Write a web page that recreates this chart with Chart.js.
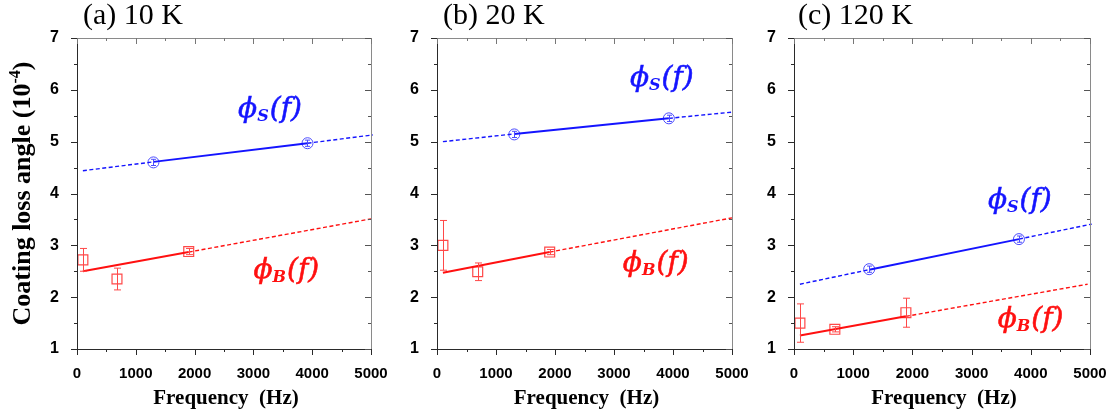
<!DOCTYPE html>
<html>
<head>
<meta charset="utf-8">
<script src="https://cdn.jsdelivr.net/npm/chart.js@4.4.0/dist/chart.umd.min.js"></script>
<style>
html, body { margin: 0; padding: 0; background: #fff; }
#wrap { position: relative; width: 1116px; height: 419px; overflow: hidden; }
#wrap canvas { position: absolute; left: 0; top: 0; }
</style>
</head>
<body>
<div id="wrap">
  <canvas id="chartA" width="1116" height="419"></canvas>
  <canvas id="chartB" width="1116" height="419"></canvas>
  <canvas id="chartC" width="1116" height="419"></canvas>
</div>
<script>
// axes
const freqMin = 0, freqMax = 5000, freqStep = 1000;
const lossMin = 1, lossMax = 7, lossStep = 1;

// (a) 10 K
const aSFreq = [1300, 3920];
const aSLoss = [4.60, 4.97];
const aSErr = [0.06, 0.06];
const aBFreq = [100, 680, 1900];
const aBLoss = [2.72, 2.35, 2.88];
const aBErr = [0.22, 0.21, 0.06];
const aSFitFreq = [100, 1300, 3920, 5030];
const aSFitLoss = [4.44, 4.61, 4.97, 5.13];
const aBFitFreq = [100, 1900, 5000];
const aBFitLoss = [2.50, 2.87, 3.51];

// (b) 20 K
const bSFreq = [1310, 3930];
const bSLoss = [5.14, 5.45];
const bSErr = [0.06, 0.06];
const bBFreq = [100, 690, 1910];
const bBLoss = [3.00, 2.49, 2.87];
const bBErr = [0.48, 0.17, 0.05];
const bSFitFreq = [100, 1310, 3930, 5000];
const bSFitLoss = [5.00, 5.15, 5.45, 5.57];
const bBFitFreq = [100, 1910, 5000];
const bBFitLoss = [2.47, 2.87, 3.53];

// (c) 120 K
const cSFreq = [1270, 3800];
const cSLoss = [2.54, 3.12];
const cSErr = [0.06, 0.06];
const cBFreq = [100, 690, 1890];
const cBLoss = [1.50, 1.38, 1.70];
const cBErr = [0.37, 0.05, 0.28];
const cSFitFreq = [100, 1270, 3800, 5030];
const cSFitLoss = [2.25, 2.53, 3.12, 3.41];
const cBFitFreq = [100, 1890, 4960];
const cBFitLoss = [1.26, 1.63, 2.25];

const BLUE = '#1414ff';
const RED = '#ff1010';
const BLUE_PT = '#4a4aff';
const RED_PT = '#ff4848';

function pts(xs, ys) {
    return xs.map((x, i) => ({ x: x, y: ys[i] }));
}

// fit line: solid between the two measured points, dashed outside
function fitDataset(xs, ys, color, solidFrom, solidTo) {
    const solid = ctx => ctx.p0DataIndex >= solidFrom && ctx.p1DataIndex <= solidTo;
    return {
        type: 'line',
        data: pts(xs, ys),
        borderColor: color,
        borderWidth: 1.6,
        pointRadius: 0,
        tension: 0,
        clip: false,
        segment: {
            borderDash: ctx => solid(ctx) ? undefined : [4, 2.5],
            borderWidth: ctx => solid(ctx) ? 2 : 1.4
        }
    };
}

// frame, ticks, error bars and texts
const decorPlugin = {
    id: 'decor',
    afterDatasetsDraw(chart) {
        const ctx = chart.ctx;
        const xs = chart.scales.x, ys = chart.scales.y;
        ctx.save();
        chart.data.datasets.forEach(ds => {
            if (!ds.errorBars) return;
            ctx.strokeStyle = ds.borderColor;
            ctx.lineWidth = 1;
            ds.data.forEach((p, i) => {
                const px = Math.round(xs.getPixelForValue(p.x)) + 0.5;
                const top = ys.getPixelForValue(p.y + ds.errorBars[i]);
                const bot = ys.getPixelForValue(p.y - ds.errorBars[i]);
                const cap = ds.capWidth / 2;
                ctx.beginPath();
                ctx.moveTo(px, top); ctx.lineTo(px, bot);
                ctx.moveTo(px - cap, top); ctx.lineTo(px + cap, top);
                ctx.moveTo(px - cap, bot); ctx.lineTo(px + cap, bot);
                ctx.stroke();
            });
        });
        ctx.restore();
    },
    afterDraw(chart, args, opts) {
        const ctx = chart.ctx;
        const a = chart.chartArea;
        const xs = chart.scales.x, ys = chart.scales.y;
        ctx.save();
        // frame
        ctx.lineWidth = 1;
        ctx.strokeStyle = '#8a8a8a';
        ctx.beginPath();
        ctx.moveTo(a.left, a.top + 0.5); ctx.lineTo(a.right + 0.5, a.top + 0.5);
        ctx.lineTo(a.right + 0.5, a.bottom);
        ctx.stroke();
        ctx.strokeStyle = '#2a2a2a';
        ctx.beginPath();
        ctx.moveTo(a.left + 0.5, a.top); ctx.lineTo(a.left + 0.5, a.bottom + 0.5);
        ctx.lineTo(a.right + 0.5, a.bottom + 0.5);
        ctx.stroke();
        // ticks
        for (let v = freqMin; v <= freqMax; v += freqStep / 2) {
            const major = (v % freqStep) === 0;
            const len = major ? 6 : 3;
            const px = Math.round(xs.getPixelForValue(v)) + 0.5;
            ctx.strokeStyle = '#2a2a2a';
            ctx.beginPath(); ctx.moveTo(px, a.bottom); ctx.lineTo(px, a.bottom + len); ctx.stroke();
            ctx.strokeStyle = '#777';
            ctx.beginPath(); ctx.moveTo(px, a.top); ctx.lineTo(px, a.top + len); ctx.stroke();
        }
        for (let v = lossMin; v <= lossMax; v += lossStep / 2) {
            const major = (v % lossStep) === 0;
            const len = major ? 6 : 3;
            const py = Math.round(ys.getPixelForValue(v)) + 0.5;
            ctx.strokeStyle = '#2a2a2a';
            ctx.beginPath(); ctx.moveTo(a.left, py); ctx.lineTo(a.left - len, py); ctx.stroke();
            ctx.strokeStyle = '#555';
            ctx.beginPath(); ctx.moveTo(a.right, py); ctx.lineTo(a.right - len, py); ctx.stroke();
        }
        // panel title
        ctx.fillStyle = '#000';
        ctx.font = '30px "Liberation Serif"';
        ctx.textAlign = 'left';
        ctx.textBaseline = 'alphabetic';
        ctx.fillText(opts.title, a.left + opts.titleDx, 24);
        // x axis title
        ctx.font = 'bold 21px "Liberation Serif"';
        ctx.textAlign = 'center';
        ctx.fillText('Frequency  (Hz)', (a.left + a.right) / 2 + 2, 404);
        // y axis title (first panel only)
        if (opts.yTitle) {
            ctx.translate(30, (a.top + a.bottom) / 2);
            ctx.rotate(-Math.PI / 2);
            const big = 'bold 26px "Liberation Serif"';
            const small = 'bold 16px "Liberation Serif"';
            ctx.font = big;
            const w1 = ctx.measureText('Coating loss angle (10').width;
            const w3 = ctx.measureText(')').width;
            ctx.font = small;
            const w2 = ctx.measureText('-4').width;
            let x = -(w1 + w2 + w3) / 2;
            ctx.textAlign = 'left';
            ctx.font = big; ctx.fillText('Coating loss angle (10', x, 0); x += w1;
            ctx.font = small; ctx.fillText('-4', x, -10); x += w2;
            ctx.font = big; ctx.fillText(')', x, 0);
            ctx.setTransform(1, 0, 0, 1, 0, 0);
        }
        // curve labels
        opts.labels.forEach(l => {
            let x = xs.getPixelForValue(l.x);
            const base = ys.getPixelForValue(l.y) + 8;
            const big = 'italic 28px "DejaVu Serif"';
            const small = 'italic bold 16px "DejaVu Serif"';
            ctx.fillStyle = l.color;
            ctx.strokeStyle = l.color;
            ctx.lineWidth = 0.6;
            ctx.textAlign = 'left';
            ctx.font = big;
            ctx.fillText('\u03D5', x, base); ctx.strokeText('\u03D5', x, base);
            x += ctx.measureText('\u03D5').width;
            ctx.font = small; ctx.fillText(l.sub, x, base + 4); x += ctx.measureText(l.sub).width + 1;
            ctx.font = big;
            ctx.fillText('(f)', x, base); ctx.strokeText('(f)', x, base);
        });
        ctx.restore();
    }
};

function makePanel(id, p) {
    const cfg = {
        type: 'scatter',
        data: {
            datasets: [
                fitDataset(p.sFitFreq, p.sFitLoss, BLUE, 1, 2),
                fitDataset(p.bFitFreq, p.bFitLoss, RED, 0, 1),
                {
                    data: pts(p.sFreq, p.sLoss),
                    errorBars: p.sErr, capWidth: 5,
                    borderColor: BLUE_PT, backgroundColor: 'rgba(0,0,0,0)',
                    pointStyle: 'circle', pointRadius: 5.5, borderWidth: 1, clip: false
                },
                {
                    data: pts(p.bFreq, p.bLoss),
                    errorBars: p.bErr, capWidth: 7,
                    borderColor: RED_PT, backgroundColor: 'rgba(0,0,0,0)',
                    pointStyle: 'rect', pointRadius: 7, borderWidth: 1.2, clip: false
                }
            ]
        },
        options: {
            responsive: false,
            animation: false,
            events: [],
            layout: { padding: { left: 0, right: 1116 - p.right, top: 38, bottom: 0 } },
            plugins: {
                legend: { display: false },
                tooltip: { enabled: false },
                decor: { title: p.title, titleDx: p.titleDx, yTitle: p.yTitle, labels: p.labels }
            },
            scales: {
                x: {
                    type: 'linear', position: 'bottom',
                    min: freqMin, max: freqMax,
                    grid: { display: false }, border: { display: false },
                    ticks: {
                        stepSize: freqStep, autoSkip: false, maxRotation: 0, padding: 8,
                        callback: v => String(v),
                        color: '#000', font: { family: '"Liberation Sans"', size: 15, weight: 'bold' }
                    },
                    afterFit: s => { s.height = 70; }
                },
                y: {
                    type: 'linear', position: 'left',
                    min: lossMin, max: lossMax,
                    grid: { display: false }, border: { display: false },
                    ticks: {
                        stepSize: lossStep, padding: 10,
                        callback: v => String(v),
                        color: '#000', font: { family: '"Liberation Sans"', size: 16, weight: 'bold' }
                    },
                    afterFit: s => { s.width = p.left; }
                }
            }
        },
        plugins: [decorPlugin]
    };
    return new Chart(document.getElementById(id), cfg);
}

makePanel('chartA', {
    left: 77, right: 371, title: '(a) 10 K', titleDx: 6, yTitle: true,
    sFreq: aSFreq, sLoss: aSLoss, sErr: aSErr, bFreq: aBFreq, bLoss: aBLoss, bErr: aBErr,
    sFitFreq: aSFitFreq, sFitLoss: aSFitLoss, bFitFreq: aBFitFreq, bFitLoss: aBFitLoss,
    labels: [
        { x: 2740, y: 5.63, sub: 'S', color: BLUE },
        { x: 3000, y: 2.52, sub: 'B', color: RED }
    ]
});
makePanel('chartB', {
    left: 437, right: 732, title: '(b) 20 K', titleDx: 6, yTitle: false,
    sFreq: bSFreq, sLoss: bSLoss, sErr: bSErr, bFreq: bBFreq, bLoss: bBLoss, bErr: bBErr,
    sFitFreq: bSFitFreq, sFitLoss: bSFitLoss, bFitFreq: bBFitFreq, bFitLoss: bBFitLoss,
    labels: [
        { x: 3270, y: 6.22, sub: 'S', color: BLUE },
        { x: 3150, y: 2.65, sub: 'B', color: RED }
    ]
});
makePanel('chartC', {
    left: 794, right: 1090, title: '(c) 120 K', titleDx: 4, yTitle: false,
    sFreq: cSFreq, sLoss: cSLoss, sErr: cSErr, bFreq: cBFreq, bLoss: cBLoss, bErr: cBErr,
    sFitFreq: cSFitFreq, sFitLoss: cSFitLoss, bFitFreq: cBFitFreq, bFitLoss: cBFitLoss,
    labels: [
        { x: 3275, y: 3.88, sub: 'S', color: BLUE },
        { x: 3440, y: 1.57, sub: 'B', color: RED }
    ]
});
</script>
</body>
</html>
